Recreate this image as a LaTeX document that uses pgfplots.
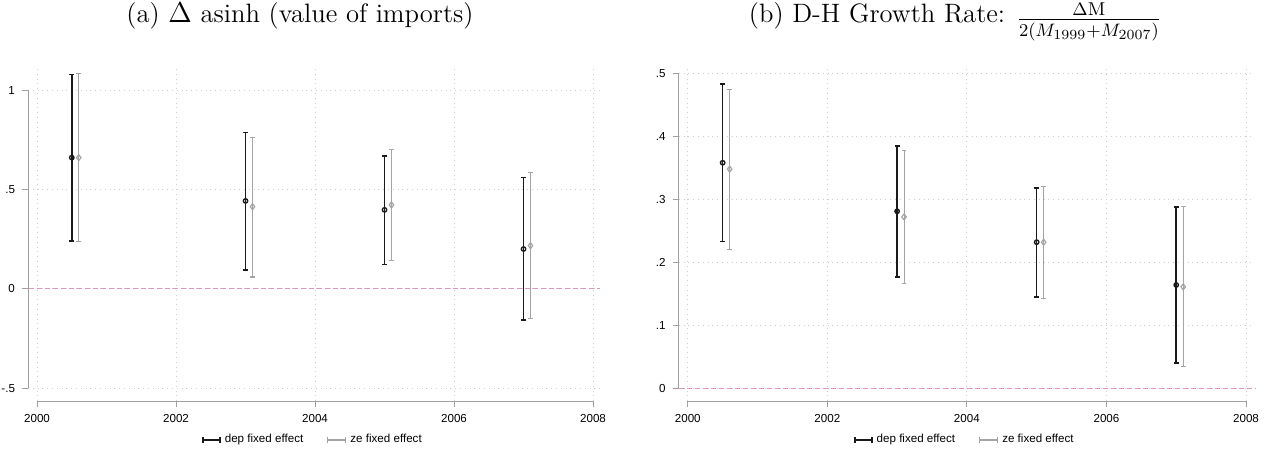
\documentclass[border=0pt]{standalone}
\usepackage{fontspec}
\usepackage{pgfplots}
\usepackage{pgfplotstable}
\pgfplotsset{compat=1.18}
\newfontfamily\arial{Liberation Sans}
\definecolor{dk}{HTML}{1A1A1A}
\definecolor{lg}{HTML}{A4A4A4}
\definecolor{pk}{HTML}{DF97BE}
\definecolor{gridc}{HTML}{D0D0D0}
\definecolor{axc}{HTML}{A0A0A0}

\pgfplotstableread{
x y lo hi
2000.5 0.661 0.242 1.080
2003.0 0.443 0.096 0.787
2005.0 0.398 0.124 0.669
2007.0 0.201 -0.156 0.560
}\leftdep
\pgfplotstableread{
x y lo hi
2000.6 0.661 0.238 1.085
2003.1 0.414 0.060 0.763
2005.1 0.423 0.142 0.701
2007.1 0.218 -0.148 0.584
}\leftze
\pgfplotstableread{
x y lo hi
2000.5 0.358 0.233 0.483
2003.0 0.281 0.177 0.385
2005.0 0.232 0.145 0.318
2007.0 0.164 0.040 0.288
}\rightdep
\pgfplotstableread{
x y lo hi
2000.6 0.348 0.221 0.474
2003.1 0.272 0.166 0.378
2005.1 0.232 0.143 0.320
2007.1 0.161 0.035 0.288
}\rightze

\pgfplotsset{
  stata/.style={
    scale only axis,
    axis x line*=bottom, axis y line*=left,
    axis line style={draw=none},
    tick align=outside,
    major tick length=3pt,
    tick style={axc, line width=0.5pt},
    grid=major,
    major grid style={gridc, dotted, line width=0.5pt},
    ticklabel style={font=\arial\fontsize{5.8}{7}\selectfont, text=black},
    xtick={2000,2002,2004,2006,2008},
    xticklabels={2000,2002,2004,2006,2008},
    xmin=1999.87, xmax=2008.1,
    clip=false,
    legend columns=2,
    legend cell align=left,
    legend style={draw=none, fill=none, font=\arial\fontsize{5.8}{7}\selectfont,
      at={(0.5,0)}, anchor=center, yshift=-19.5pt,
      /tikz/every even column/.append style={column sep=10pt}},
  },
  depbar/.style={
    dk, line width=0.8pt, only marks, mark=o, mark size=1.1pt,
    mark options={solid, dk, line width=0.7pt},
    legend image code/.code={
      \draw[dk, line width=0.8pt] (0pt,0pt) -- (8.5pt,0pt);
      \draw[dk, line width=0.8pt] (0pt,-1.3pt) -- (0pt,1.3pt);
      \draw[dk, line width=0.8pt] (8.5pt,-1.3pt) -- (8.5pt,1.3pt);
    },
    error bars/.cd, y dir=both, y explicit,
    error mark=-,
    error bar style={line width=0.8pt, dk},
    error mark options={rotate=90, dk, line width=0.8pt, mark size=1.2pt},
  },
  zebar/.style={
    lg, line width=0.55pt, only marks, mark=diamond, mark size=1.5pt,
    mark options={solid, lg, line width=0.6pt},
    legend image code/.code={
      \draw[lg, line width=0.55pt] (0pt,0pt) -- (9pt,0pt);
      \draw[lg, line width=0.55pt] (0pt,-1.3pt) -- (0pt,1.3pt);
      \draw[lg, line width=0.55pt] (9pt,-1.3pt) -- (9pt,1.3pt);
    },
    error bars/.cd, y dir=both, y explicit,
    error mark=-,
    error bar style={line width=0.55pt, lg},
    error mark options={rotate=90, lg, line width=0.55pt, mark size=1.2pt},
  },
}

\begin{document}
\begin{tikzpicture}
\useasboundingbox (0pt,0pt) rectangle (637.5pt,-225.5pt);

\node[anchor=base] at (150pt,-11.3pt) {\fontsize{13.3}{16}\selectfont (a) $\Delta$ asinh (value of imports)};
\node[anchor=base] at (477.5pt,-11.3pt) {\fontsize{13.3}{16}\selectfont (b) D-H Growth Rate: \raisebox{-2pt}{$\frac{\Delta\mathrm{M}}{2(M_{1999}+M_{2007})}$}};

\begin{axis}[stata,
  at={(14pt,-200.5pt)}, anchor=south west,
  width=286pt, height=167.5pt,
  ymin=-0.564, ymax=1.122,
  ytick={-0.5,0,0.5,1},
  yticklabels={-.5,0,.5,1},
]
\draw[axc, line width=0.5pt] (axis cs:1999.87,-0.5) -- (axis cs:1999.87,1);
\draw[axc, line width=0.5pt] (axis cs:2000,-0.564) -- (axis cs:2008,-0.564);
\addplot[pk, dash pattern=on 2.5pt off 1.5pt, line width=0.5pt, forget plot] coordinates {(1999.88,0) (2008.1,0)};
\addplot[depbar] table[x=x, y=y, y error plus expr=\thisrow{hi}-\thisrow{y}, y error minus expr=\thisrow{y}-\thisrow{lo}] {\leftdep};
\addlegendentry{dep fixed effect}
\addplot[zebar] table[x=x, y=y, y error plus expr=\thisrow{hi}-\thisrow{y}, y error minus expr=\thisrow{y}-\thisrow{lo}] {\leftze};
\addlegendentry{ze fixed effect}
\end{axis}

\begin{axis}[stata,
  at={(339.35pt,-200.5pt)}, anchor=south west,
  width=287.15pt, height=167.5pt,
  ymin=-0.0202, ymax=0.5116,
  ytick={0,0.1,0.2,0.3,0.4,0.5},
  yticklabels={0,.1,.2,.3,.4,.5},
]
\draw[axc, line width=0.5pt] (axis cs:1999.87,0) -- (axis cs:1999.87,0.5);
\draw[axc, line width=0.5pt] (axis cs:2000,-0.0202) -- (axis cs:2008,-0.0202);
\addplot[pk, dash pattern=on 2.5pt off 1.5pt, line width=0.5pt, forget plot] coordinates {(1999.88,0) (2008.15,0)};
\addplot[depbar] table[x=x, y=y, y error plus expr=\thisrow{hi}-\thisrow{y}, y error minus expr=\thisrow{y}-\thisrow{lo}] {\rightdep};
\addlegendentry{dep fixed effect}
\addplot[zebar] table[x=x, y=y, y error plus expr=\thisrow{hi}-\thisrow{y}, y error minus expr=\thisrow{y}-\thisrow{lo}] {\rightze};
\addlegendentry{ze fixed effect}
\end{axis}
\end{tikzpicture}
\end{document}
